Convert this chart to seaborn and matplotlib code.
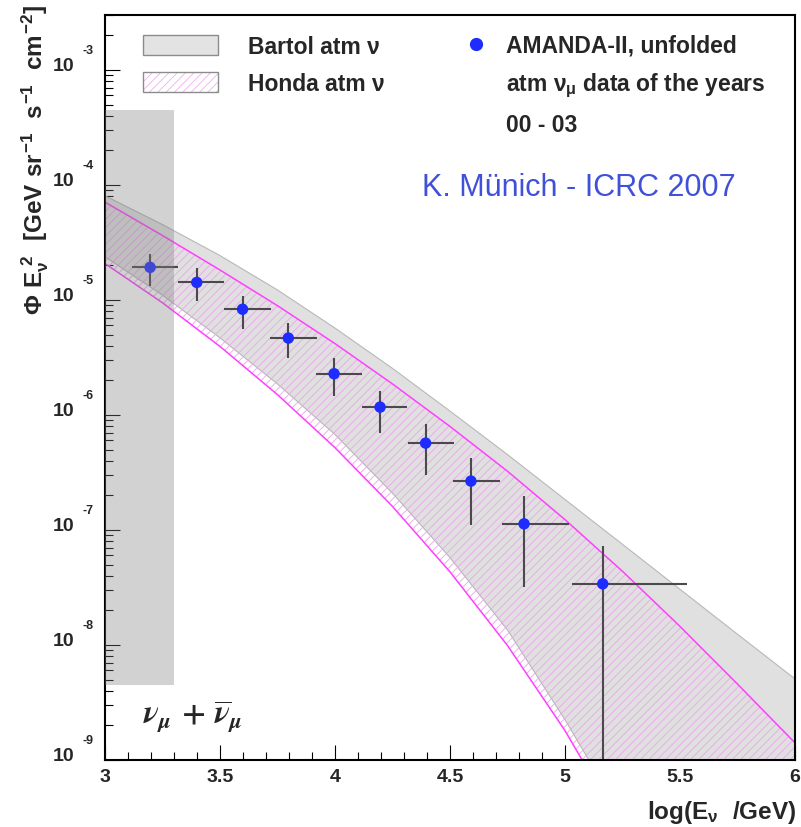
import numpy as np
import matplotlib
matplotlib.use("Agg")
import matplotlib.pyplot as plt
import matplotlib.patches as mpatches
from matplotlib.lines import Line2D
from matplotlib.legend_handler import HandlerTuple
from matplotlib.ticker import MultipleLocator, LogLocator, NullFormatter, FuncFormatter
import seaborn as sns

# ---------------- data ----------------
# unfolded AMANDA-II spectrum: log10(E/GeV) bin centres and edges, E^2*flux with errors
energy = np.array([3.196, 3.399, 3.598, 3.797, 3.996, 4.196, 4.394, 4.591, 4.822, 5.164])
energy_lo = np.array([3.116, 3.319, 3.517, 3.717, 3.917, 4.116, 4.319, 4.514, 4.725, 5.029])
energy_hi = np.array([3.319, 3.517, 3.720, 3.920, 4.116, 4.314, 4.517, 4.717, 5.019, 5.529])
flux = np.array([1.92e-5, 1.42e-5, 8.3e-6, 4.66e-6, 2.28e-6, 1.17e-6, 5.69e-7, 2.66e-7, 1.13e-7, 3.40e-8])
flux_hi = np.array([2.49e-5, 1.88e-5, 1.09e-5, 6.28e-6, 3.12e-6, 1.63e-6, 8.41e-7, 4.24e-7, 1.98e-7, 7.2e-8])
flux_lo = np.array([1.33e-5, 9.8e-6, 5.57e-6, 3.12e-6, 1.45e-6, 6.98e-7, 2.98e-7, 1.10e-7, 3.2e-8, 0.0])

# atmospheric model bands on a common energy grid
model_e = np.array([3.0, 3.25, 3.5, 3.75, 4.0, 4.25, 4.5, 4.75, 5.0, 5.25, 5.5, 5.75, 6.0])
bartol_hi = np.array([8.04e-5, 4.52e-5, 2.43e-5, 1.22e-5, 5.69e-6, 2.54e-6, 1.08e-6, 4.52e-7,
                      1.84e-7, 7.50e-8, 3.05e-8, 1.24e-8, 5.07e-9])
bartol_lo = np.array([2.37e-5, 1.10e-5, 4.68e-6, 1.86e-6, 6.76e-7, 2.09e-7, 5.75e-8, 1.35e-8,
                      2.24e-9, 3.2e-10, 3.2e-11, 2.5e-12, 1.6e-13])
honda_hi = np.array([7.08e-5, 3.63e-5, 1.82e-5, 8.91e-6, 4.17e-6, 1.86e-6, 7.94e-7, 3.24e-7,
                     1.23e-7, 4.37e-8, 1.45e-8, 4.57e-9, 1.41e-9])
honda_lo = np.array([2.07e-5, 9.44e-6, 3.94e-6, 1.50e-6, 5.19e-7, 1.60e-7, 4.32e-8, 9.89e-9,
                     1.80e-9, 2.5e-10, 2.5e-11, 2.0e-12, 1.3e-13])

# low-energy region shaded out
shade_e = [3.0, 3.3]
shade_flux = [4.5e-9, 4.5e-4]

y_exponents = [-3, -4, -5, -6, -7, -8, -9]

# ---------------- style ----------------
sns.set_style("white")
plt.rcParams["font.family"] = ["Liberation Sans", "DejaVu Sans"]
plt.rcParams["font.weight"] = "bold"
plt.rcParams["mathtext.fontset"] = "custom"
plt.rcParams["mathtext.rm"] = "Liberation Sans:bold"
plt.rcParams["mathtext.it"] = "Liberation Sans:bold"
plt.rcParams["mathtext.bf"] = "Liberation Sans:bold"
plt.rcParams["mathtext.sf"] = "Liberation Sans:bold"
plt.rcParams["hatch.linewidth"] = 0.6

blue = "#1e2cff"
magenta = "#ff40ff"
hatch_pink = "#eaa6ea"

fig = plt.figure(figsize=(8.01, 8.28), dpi=100)
ax = fig.add_axes([105 / 801, 1 - 761 / 828, 690 / 801, 745 / 828])
ax.set_yscale("log")
ax.set_xlim(3, 6)
ax.set_ylim(1e-9, 3e-3)

# Bartol band
ax.fill_between(model_e, bartol_lo, bartol_hi, facecolor="#e0e0e0",
                edgecolor="#b8b8b8", linewidth=0.8, zorder=1)
# Honda band (hatched) with its boundary lines
ax.fill_between(model_e, honda_lo, honda_hi, facecolor="none", edgecolor=hatch_pink,
                hatch="////", linewidth=0, zorder=1.5)
sns.lineplot(x=model_e, y=honda_hi, color=magenta, linewidth=1.1, ax=ax,
             estimator=None, sort=False, zorder=2)
sns.lineplot(x=model_e, y=honda_lo, color=magenta, linewidth=1.1, ax=ax,
             estimator=None, sort=False, zorder=2)

# data points with bin widths and errors
ax.errorbar(energy, flux,
            xerr=[energy - energy_lo, energy_hi - energy],
            yerr=[flux - flux_lo, flux_hi - flux],
            fmt="none", ecolor="#4a4a4a", elinewidth=1.5, capsize=0, zorder=2.5)
sns.scatterplot(x=energy, y=flux, color=blue, s=68, edgecolor="none", ax=ax, zorder=3)

# shaded low-energy region
ax.fill_between(shade_e, shade_flux[0], shade_flux[1], color="#7f7f7f", alpha=0.35,
                linewidth=0, zorder=4)

# ---------------- axes ----------------
for s in ax.spines.values():
    s.set_linewidth(1.5)
    s.set_color("black")

ax.xaxis.set_major_locator(MultipleLocator(0.5))
ax.xaxis.set_minor_locator(MultipleLocator(0.1))
ax.xaxis.set_major_formatter(FuncFormatter(lambda v, p: f"{v:g}"))
ax.yaxis.set_major_locator(LogLocator(base=10, numticks=20))
ax.yaxis.set_minor_locator(LogLocator(base=10, subs=np.arange(2, 10), numticks=20))
ax.yaxis.set_major_formatter(NullFormatter())
ax.yaxis.set_minor_formatter(NullFormatter())
ax.tick_params(which="both", direction="in", top=False, right=False, left=True,
               bottom=True, width=0.8, color="black")
ax.tick_params(which="major", length=10.5)
ax.tick_params(which="minor", length=5.5)
ax.tick_params(axis="x", labelsize=14, pad=6)

ytrans = ax.get_yaxis_transform()
for p in y_exponents:
    ax.annotate("10", xy=(0, 10.0 ** p), xycoords=ytrans, xytext=(-31, 0),
                textcoords="offset pixels", ha="right", va="baseline", fontsize=14)
    ax.annotate(f"{p}", xy=(0, 10.0 ** p), xycoords=ytrans, xytext=(-22, 17),
                textcoords="offset pixels", ha="left", va="baseline", fontsize=9)

ax.text(-0.1014, 1.0148,
        r"$\Phi\ E_{\nu}^{\ 2}\ \ [GeV\ sr^{-1}\ \ s^{-1}\ \ cm^{-2}]$",
        rotation=90, ha="center", va="top", transform=ax.transAxes, fontsize=17.5)
ax.text(1.0015, -0.0779, r"$log(E_{\nu}\ \ /GeV)$", ha="right", va="baseline",
        transform=ax.transAxes, fontsize=17.5)

ax.text(0.055, 0.051, r"$\nu_{\mu}\,+\,\overline{\nu}_{\mu}$", transform=ax.transAxes,
        fontsize=23, math_fontfamily="stix", fontweight="normal", va="baseline", zorder=5)
ax.text(0.687, 0.769, "K. Münich - ICRC 2007", color="#4050d8", fontsize=22,
        fontweight="normal", ha="center", va="center", transform=ax.transAxes, zorder=5)

# ---------------- legends ----------------
bartol_handle = mpatches.Patch(facecolor="#e3e3e3", edgecolor="#8c8c8c", linewidth=1)
honda_handle = (mpatches.Patch(facecolor="white", edgecolor="#eeb0ee", hatch="////", linewidth=0),
                mpatches.Patch(facecolor="none", edgecolor="#8c8c8c", linewidth=1))
leg1 = ax.legend([bartol_handle, honda_handle], ["Bartol atm ν", "Honda atm ν"],
                 handler_map={tuple: HandlerTuple(ndivide=1)},
                 loc="upper left", bbox_to_anchor=(0.0551, 0.9731), frameon=False,
                 fontsize=16.5, handlelength=3.27, handleheight=0.96, handletextpad=1.31,
                 labelspacing=0.6, borderpad=0, borderaxespad=0)
ax.add_artist(leg1)

data_handle = Line2D([], [], marker="o", linestyle="none", color=blue, markersize=8.5)
blank = Line2D([], [], linestyle="none")
ax.legend([data_handle, blank, blank],
          ["AMANDA-II, unfolded", r"atm $\nu_{\mu}$ data of the years", "00 - 03"],
          loc="upper left", bbox_to_anchor=(0.521, 0.9745), frameon=False,
          fontsize=16.5, handlelength=1.0, handletextpad=0.81, labelspacing=0.6,
          borderpad=0, borderaxespad=0)

fig.savefig("out.png", dpi=100)
